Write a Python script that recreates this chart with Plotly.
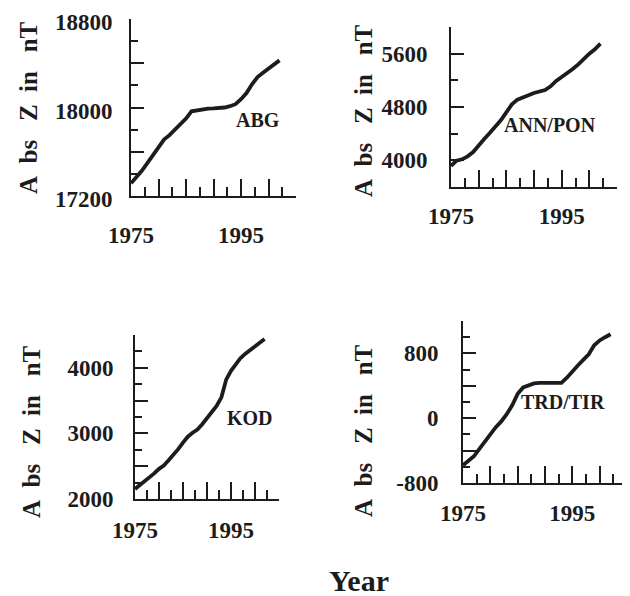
import plotly.graph_objects as go

years = list(range(1975, 2003))

abg = [17315, 17370, 17430, 17500, 17570, 17640, 17710, 17750, 17800, 17840,
       17900, 17965, 17975, 17985, 17990, 17992, 17994, 18000, 18012, 18030,
       18075, 18130, 18210, 18275, 18315, 18355, 18390, 18426]
ann_pon = [3915, 3995, 4015, 4060, 4125, 4230, 4320, 4410, 4500, 4600,
           4720, 4840, 4910, 4950, 4975, 5010, 5030, 5055, 5110, 5190,
           5250, 5305, 5370, 5440, 5525, 5600, 5665, 5750]
kod = [2153, 2210, 2270, 2330, 2390, 2460, 2510, 2590, 2670, 2760,
       2860, 2950, 3010, 3060, 3140, 3240, 3330, 3420, 3550, 3820,
       3953, 4060, 4150, 4215, 4270, 4320, 4380, 4438]
trd_tir = [-580, -530, -470, -380, -290, -200, -110, -40, 50, 160,
           300, 380, 400, 430, 435, 435, 435, 435, 435, 500,
           580, 650, 720, 790, 900, 960, 1000, 1036]

station_names = ["ABG", "ANN/PON", "KOD", "TRD/TIR"]
series = [abg, ann_pon, kod, trd_tir]
y_title = "A\u00a0\u00a0bs\u00a0\u00a0\u00a0Z\u00a0\u00a0in\u00a0\u00a0\u00a0nT"

x_major = [1975, 1980, 1985, 1990, 1995, 2000, 2005]
x_major_text = ["1975", "", "", "", "1995", "", ""]
x_minor = [1977.5, 1982.5, 1987.5, 1992.5, 1997.5, 2002.5]

y_major = [[17200, 17600, 18000, 18400, 18800],
           [3600, 4000, 4800, 5600, 6000],
           [2000, 2500, 3000, 3500, 4000, 4500],
           [-800, -400, 0, 400, 800, 1200]]
y_major_text = [["17200", "", "18000", "", "18800"],
                ["", "4000", "4800", "5600", ""],
                ["2000", "", "3000", "", "4000", ""],
                ["-800", "", "0", "", "800", ""]]
y_minor = [[17400, 17800, 18200, 18600],
           [4400, 5200],
           [2250, 2750, 3250, 3750, 4250],
           [-600, -200, 200, 600, 1000]]
y_ranges = [[17200, 18800], [3600, 6000], [2000, 4500], [-800, 1200]]
x_range = [1975, 2005]

OFF = 8  # page body margin
W, H = 630 - OFF, 596 - OFF
# pixel boxes in reference image (left, right, top, bottom)
boxes = [(131, 296, 19, 196), (451, 617, 27, 187), (135, 279, 335, 499), (463, 627, 321, 483)]
x_stand = [17, 7, 9, 8]
y_stand = [12, 17, 15, 18]
y_shift = [3, 0, 0, 0]
label_pos = [(258, 120), (550, 125), (250, 418), (563, 402)]
title_pos = [(29, 108), (363, 111), (31, 432), (363, 431)]


def px(v):
    return (v - OFF) / W


def py(v):
    return 1 - (v - OFF) / H


INK = "#1c1c1c"
FONT = "Liberation Serif"

fig = go.Figure()
layout = dict(
    template="none",
    width=W, height=H, margin=dict(l=0, r=0, t=0, b=0, autoexpand=False),
    paper_bgcolor="white", plot_bgcolor="white", showlegend=False,
)
annotations = []
for i in range(4):
    ax = "" if i == 0 else str(i + 1)
    fig.add_trace(go.Scatter(x=years, y=series[i], mode="lines",
                             line=dict(color=INK, width=3.8),
                             xaxis="x" + ax, yaxis="y" + ax, cliponaxis=False))
    l, r, t, b = boxes[i]
    layout["xaxis" + ax] = dict(
        domain=[px(l), px(r)], range=x_range, anchor="y" + ax, automargin=False,
        showgrid=False, zeroline=False, showline=True, linecolor=INK, linewidth=2,
        tickmode="array", tickvals=x_major, ticktext=x_major_text,
        ticks="inside", ticklen=17, tickwidth=2, tickcolor=INK,
        ticklabelstandoff=x_stand[i], ticklabeloverflow="allow",
        tickfont=dict(family=FONT, size=23, color=INK, weight="bold"),
        minor=dict(tickmode="array", tickvals=x_minor, ticks="inside",
                   ticklen=9, tickwidth=2, tickcolor=INK, showgrid=False),
    )
    layout["yaxis" + ax] = dict(
        domain=[py(b), py(t)], range=y_ranges[i], anchor="x" + ax, automargin=False,
        showgrid=False, zeroline=False, showline=True, linecolor=INK, linewidth=2,
        tickmode="array", tickvals=y_major[i], ticktext=y_major_text[i],
        ticks="inside", ticklen=13, tickwidth=2, tickcolor=INK,
        ticklabelstandoff=y_stand[i], ticklabelshift=y_shift[i],
        ticklabeloverflow="allow",
        tickfont=dict(family=FONT, size=23, color=INK, weight="bold"),
        minor=dict(tickmode="array", tickvals=y_minor[i], ticks="inside",
                   ticklen=7, tickwidth=2, tickcolor=INK, showgrid=False),
    )
    lx, ly = label_pos[i]
    annotations.append(dict(x=px(lx), y=py(ly), xref="paper", yref="paper",
                            xanchor="center", yanchor="middle",
                            text=station_names[i], showarrow=False,
                            font=dict(family=FONT, size=20, color=INK, weight="bold")))
    tx, ty = title_pos[i]
    annotations.append(dict(x=px(tx), y=py(ty), xref="paper", yref="paper",
                            xanchor="center", yanchor="middle",
                            text=y_title, textangle=-90, showarrow=False,
                            font=dict(family=FONT, size=25, color=INK, weight="bold")))

annotations.append(dict(x=px(359), y=py(580), xref="paper", yref="paper",
                        xanchor="center", yanchor="middle",
                        text="Year", showarrow=False,
                        font=dict(family=FONT, size=30, color=INK, weight="bold")))
layout["annotations"] = annotations
fig.update_layout(**layout)
fig.write_html("out.html")
